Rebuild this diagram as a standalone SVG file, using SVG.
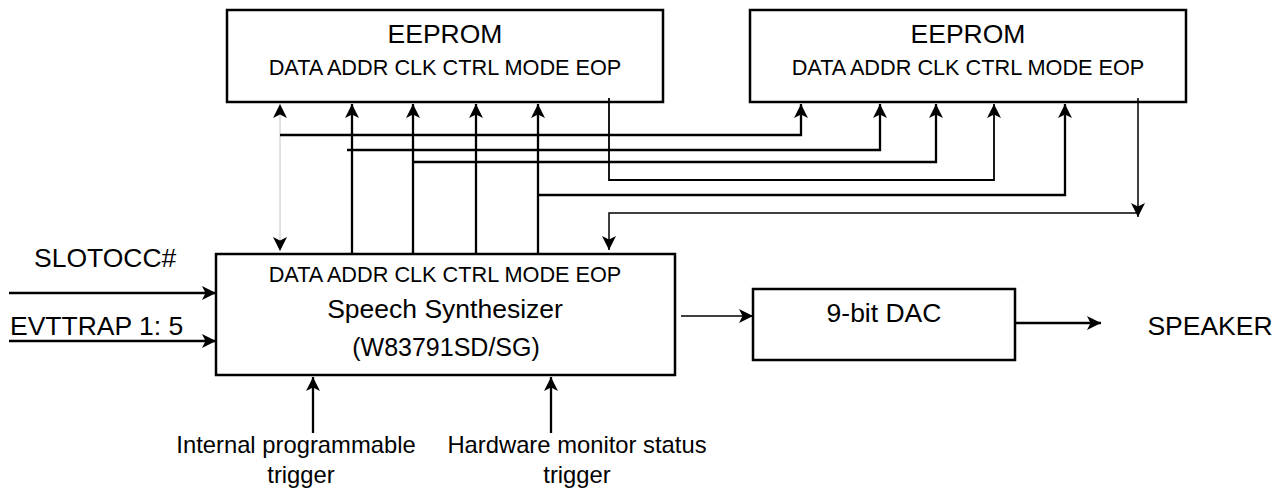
<svg xmlns="http://www.w3.org/2000/svg" width="1283" height="491" viewBox="0 0 1283 491">
<style>
text{font-family:"Liberation Sans",Arial,sans-serif;fill:#000}
.big{font-size:26.5px;text-anchor:middle}
.sub{font-size:21.7px;text-anchor:middle}
.lbl{font-size:23.8px;text-anchor:middle}
.box{fill:#fff;stroke:#000;stroke-width:2.5}
.c{fill:none;stroke:#000;stroke-width:2.3}
.t{fill:none;stroke:#000;stroke-width:1.5}
.g{fill:none;stroke:#c4c4c4;stroke-width:1}
</style>
<defs>
<marker id="ah" viewBox="0 0 14 14" refX="14" refY="7" markerWidth="14" markerHeight="14" orient="auto-start-reverse" markerUnits="userSpaceOnUse"><path d="M0,0 L14,7 L0,14 L3.5,7 Z" fill="#000"/></marker>
</defs>
<g id="eeprom1">
<rect class="box" x="227" y="10" width="436" height="92"/>
<text class="big" x="445" y="43">EEPROM</text>
<text class="sub" x="445" y="75">DATA ADDR CLK CTRL MODE EOP</text>
</g>
<g id="eeprom2">
<rect class="box" x="750" y="10" width="436" height="92"/>
<text class="big" x="968" y="43">EEPROM</text>
<text class="sub" x="968" y="75">DATA ADDR CLK CTRL MODE EOP</text>
</g>
<g id="synth">
<rect class="box" x="216" y="254" width="459" height="121"/>
<text class="sub" x="445" y="282">DATA ADDR CLK CTRL MODE EOP</text>
<text class="big" x="445" y="318">Speech Synthesizer</text>
<text class="big" x="446" y="356" style="font-size:25px">(W83791SD/SG)</text>
</g>
<g id="dac">
<rect class="box" x="753" y="289" width="262" height="71"/>
<text class="big" x="884" y="322">9-bit DAC</text>
</g>
<g id="speaker"><text class="big" x="1210" y="335">SPEAKER</text></g>
<g id="slotocc"><text class="big" x="34" y="267" style="text-anchor:start">SLOTOCC#</text></g>
<g id="evttrap"><text class="big" x="10" y="335" style="text-anchor:start">EVTTRAP 1: 5</text></g>
<g id="internal-trigger">
<text class="lbl" x="296" y="453">Internal programmable</text>
<text class="lbl" x="301" y="483">trigger</text>
</g>
<g id="hw-trigger">
<text class="lbl" x="577" y="453">Hardware monitor status</text>
<text class="lbl" x="577" y="483">trigger</text>
</g>
<g id="connectors">
<path class="g" d="M280,251 V104" marker-start="url(#ah)" marker-end="url(#ah)"/>
<path class="c" d="M280,135 H801 V104" marker-end="url(#ah)"/>
<path class="c" d="M352,254 V104" marker-end="url(#ah)"/>
<path class="c" d="M347,150 H880 V104" marker-end="url(#ah)"/>
<path class="c" d="M413,254 V104" marker-end="url(#ah)"/>
<path class="c" d="M413,162 H936 V104" marker-end="url(#ah)"/>
<path class="c" d="M476,254 V104" marker-end="url(#ah)"/>
<path class="c" d="M538,254 V104" marker-end="url(#ah)"/>
<path class="c" d="M538,195 H1065 V104" marker-end="url(#ah)"/>
<path class="c" d="M609,98 V180 H994 V104" marker-end="url(#ah)" style="stroke-width:1.8"/>
<path class="t" d="M1138,98 V217" marker-end="url(#ah)"/>
<path class="t" d="M1138,213 H609 V250" marker-end="url(#ah)"/>
<path class="c" d="M9,293 H216" marker-end="url(#ah)"/>
<path class="c" d="M9,341 H216" marker-end="url(#ah)"/>
<path class="t" d="M681,316 H753" marker-end="url(#ah)"/>
<path class="c" d="M1015,323 H1101" marker-end="url(#ah)"/>
<path class="c" d="M313,433 V377" marker-end="url(#ah)"/>
<path class="c" d="M551,433 V377" marker-end="url(#ah)"/>
</g>
</svg>
